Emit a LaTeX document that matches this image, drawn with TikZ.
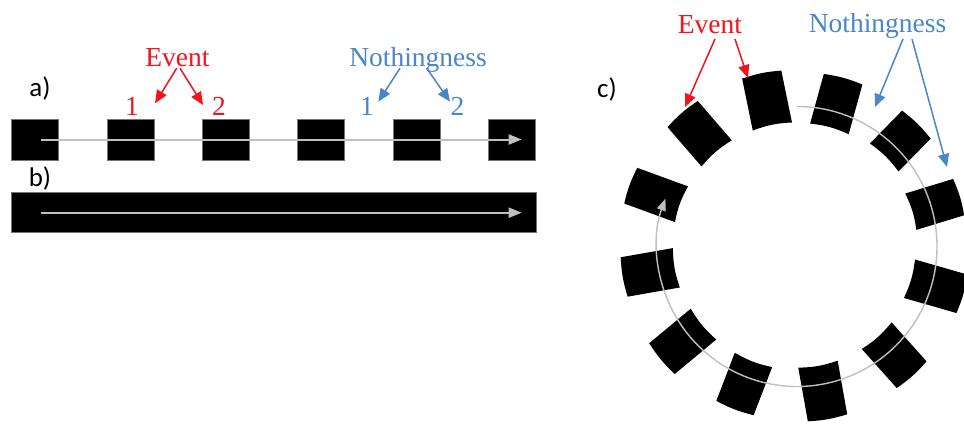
\documentclass[tikz,border=0pt]{standalone}
\usepackage{fontspec}
\setmainfont{Liberation Serif}
\newfontfamily\panelfont{Carlito}
\usetikzlibrary{arrows.meta}

\definecolor{evred}{RGB}{245,20,30}
\definecolor{nothblue}{RGB}{74,134,200}
\definecolor{axisgray}{RGB}{192,192,192}

% one black block of the ring: angle, inner radius, outer radius, half width
\newcommand\ringblock[4]{%
  \fill[rotate=#1] (#2,-#4) -- (#3,-#4) to[bend right=7] (#3,#4)
    -- (#2,#4) to[bend left=9] cycle;}

\begin{document}
\begin{tikzpicture}[x=1pt,y=-1pt,
  blk/.style={fill=black, draw=black!55, line width=0.5pt, inner sep=0pt, outer sep=0pt},
  sq/.style={blk, minimum width=47pt, minimum height=41.5pt},
  bar/.style={blk, minimum width=524.3pt, minimum height=40pt},
  timeline/.style={axisgray, line width=2pt, -{Triangle[length=13pt,width=10pt]}},
  ringline/.style={axisgray, line width=1.4pt, -{Triangle[length=12pt,width=9pt]}},
  word/.style={inner sep=0pt, anchor=base, font=\fontsize{27.5}{30}\selectfont},
  panel/.style={inner sep=0pt, font=\panelfont\fontsize{27}{30}\selectfont},
  redarrow/.style={evred, line width=1.5pt, -{Triangle[length=13pt,width=11pt]}},
  bluearrow/.style={nothblue, line width=1.5pt, -{Triangle[length=13pt,width=11pt]}}]

\useasboundingbox (0,0) rectangle (964,424);
\fill[white] (0,0) rectangle (964,424);

% ---------- a) separate events on a line ----------
\node[panel] (la) at (40,88) {a)};
\foreach \i in {0,...,5}
  \node[sq] (s\i) at ({35.2+95.3*\i},139.8) {};
\coordinate (a0) at (40.7,139.5);
\coordinate (a1) at (521.7,139.5);
\draw[timeline] (a0) -- (a1);

\node[word, evred] (ev) at (177.5,66.7) {Event};
\node[word, evred] (e1) at (132,115.5) {1};
\node[word, evred] (e2) at (219,115.5) {2};
\coordinate (ev1) at (155,103.3);
\coordinate (ev2) at (203,105);
\draw[redarrow] ([xshift=-0.8pt,yshift=-1.5pt]ev.base) -- (ev1);
\draw[redarrow] ([xshift=2.5pt,yshift=-1.5pt]ev.base) -- (ev2);

\node[word, nothblue] (no) at (418,66.5) {Nothingness};
\node[word, nothblue] (n1) at (367,115) {1};
\node[word, nothblue] (n2) at (457.5,115) {2};
\coordinate (no1) at (378.3,101.7);
\coordinate (no2) at (450,101.7);
\draw[bluearrow] ([xshift=-18pt,yshift=-1.8pt]no.base) -- (no1);
\draw[bluearrow] ([xshift=8.7pt,yshift=-1.8pt]no.base) -- (no2);

% ---------- b) one continuous bar ----------
\node[panel] (lb) at (40,178) {b)};
\node[bar] (bb) at (273.85,212.3) {};
\coordinate (b0) at (40.7,212.7);
\coordinate (b1) at (521.7,212.7);
\draw[timeline] (b0) -- (b1);

% ---------- c) events on a ring ----------
\node[panel] (lc) at (607,89) {c)};
\begin{scope}[shift={(797,246.5)}, y=1pt]
  \ringblock{130.8}{123}{175}{20}
  \ringblock{101.6}{122.5}{175.5}{20}
  \ringblock{74.6}{122}{173.5}{20}
  \ringblock{45.6}{124.6}{170.6}{20}
  \ringblock{17}{119}{169}{19}
  \ringblock{-16}{117}{171.6}{20}
  \ringblock{-48.2}{119.6}{172}{20}
  \ringblock{-79.9}{119.5}{174}{20}
  \ringblock{-111}{121.5}{173}{20}
  \ringblock{-140.3}{121.5}{175.5}{20}
  \ringblock{-170}{122.5}{175.5}{20}
  \ringblock{159.9}{123}{177}{19}
  \coordinate (r0) at (90:140);
  \draw[ringline] (r0) arc[start angle=90, end angle=-200, radius=140];
\end{scope}

\node[word, evred] (cev) at (710,33.3) {Event};
\coordinate (cev1) at (685,107);
\coordinate (cev2) at (748,78);
\draw[redarrow] ([xshift=5pt,yshift=-5.7pt]cev.base) -- (cev1);
\draw[redarrow] ([xshift=25pt,yshift=-5.7pt]cev.base) -- (cev2);

\node[word, nothblue] (cno) at (877.5,32) {Nothingness};
\coordinate (cno1) at (875,107);
\coordinate (cno2) at (947,167);
\draw[bluearrow] ([xshift=25.5pt,yshift=-7pt]cno.base) -- (cno1);
\draw[bluearrow] ([xshift=34.5pt,yshift=-7pt]cno.base) -- (cno2);

\end{tikzpicture}
\end{document}
